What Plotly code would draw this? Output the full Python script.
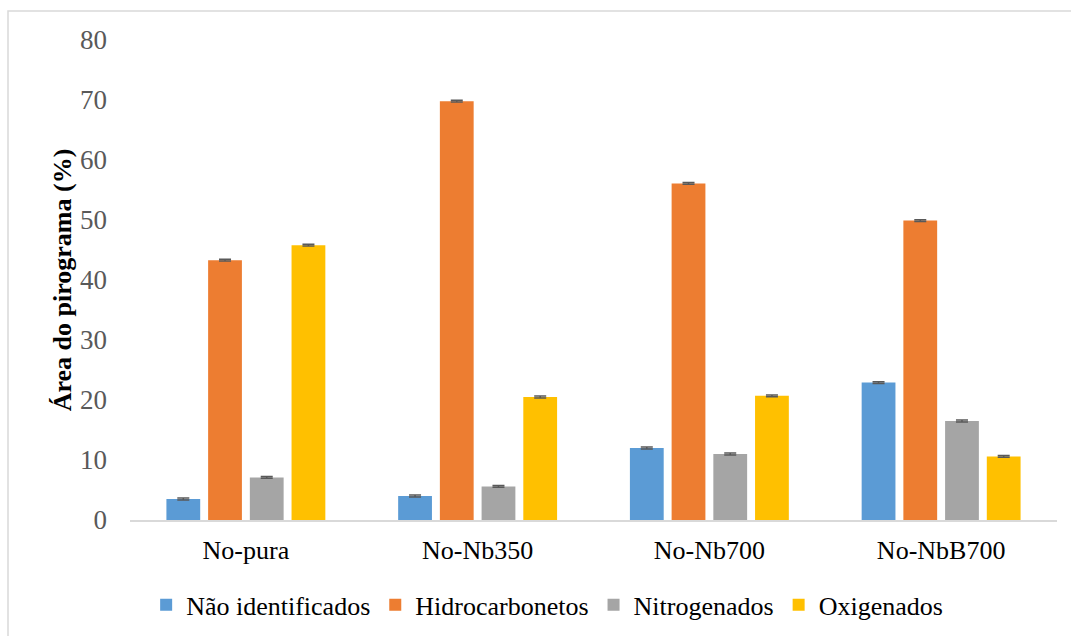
import plotly.graph_objects as go

categories = ["No-pura", "No-Nb350", "No-Nb700", "No-NbB700"]
series_names = ["Não identificados", "Hidrocarbonetos", "Nitrogenados", "Oxigenados"]
nao_identificados = [3.5, 4.0, 12.0, 22.9]
hidrocarbonetos = [43.3, 69.8, 56.1, 49.9]
nitrogenados = [7.1, 5.6, 11.0, 16.5]
oxigenados = [45.8, 20.5, 20.7, 10.6]
err_nao = [0.15, 0.15, 0.15, 0.15]
err_hidro = [0.15, 0.15, 0.15, 0.15]
err_nitro = [0.15, 0.15, 0.15, 0.15]
err_oxi = [0.15, 0.15, 0.15, 0.15]
colors = ["#5B9BD5", "#ED7D31", "#A5A5A5", "#FFC000"]
y_ticks = [0, 10, 20, 30, 40, 50, 60, 70, 80]

serif = "Liberation Serif, Times New Roman, serif"

# plot area geometry (pixels) used for the outer frame
L, R, T, B = 130, 14, 40, 116
W = 1071 - L - R
H = 636 - T - B

fig = go.Figure()
for name, vals, errs, col in zip(
    series_names,
    [nao_identificados, hidrocarbonetos, nitrogenados, oxigenados],
    [err_nao, err_hidro, err_nitro, err_oxi],
    colors,
):
    fig.add_trace(go.Bar(
        x=categories, y=vals, name=name,
        marker=dict(color=col, line=dict(width=0)),
        error_y=dict(type="data", array=errs, visible=True,
                     color="#595959", thickness=1.5, width=6),
    ))

fig.update_layout(
    width=1071, height=636,
    margin=dict(l=L, r=R, t=T, b=B, autoexpand=False),
    paper_bgcolor="white", plot_bgcolor="white",
    barmode="group", bargap=0.28, bargroupgap=0.19,
    font=dict(family=serif, color="#000000"),
    showlegend=True,
    legend=dict(orientation="h", x=0.45, xanchor="center", y=-0.177, yanchor="middle",
                font=dict(family=serif, size=26, color="#000000"),
                itemwidth=30, traceorder="normal"),
    xaxis=dict(showline=True, linecolor="#D9D9D9", linewidth=1.5, automargin=False,
               showgrid=False, ticks="", zeroline=False, ticklabelstandoff=6,
               tickfont=dict(family=serif, size=26, color="#000000")),
    yaxis=dict(range=[0, 80], tickvals=y_ticks, showgrid=False, showline=False,
               zeroline=False, ticks="", ticklabelstandoff=22, automargin=False,
               tickfont=dict(family=serif, size=27, color="#595959"),
               title=dict(text="<b>Área do pirograma (%)</b>", standoff=0,
                          font=dict(family=serif, size=26, color="#000000"))),
    shapes=[dict(type="rect", xref="paper", yref="paper",
                 x0=(8 - L) / W, x1=(1080 - L) / W,
                 y0=(T + H - 650) / H, y1=(T + H - 11) / H,
                 line=dict(color="#D9D9D9", width=1.5), layer="below")],
)

fig.write_html("out.html")
